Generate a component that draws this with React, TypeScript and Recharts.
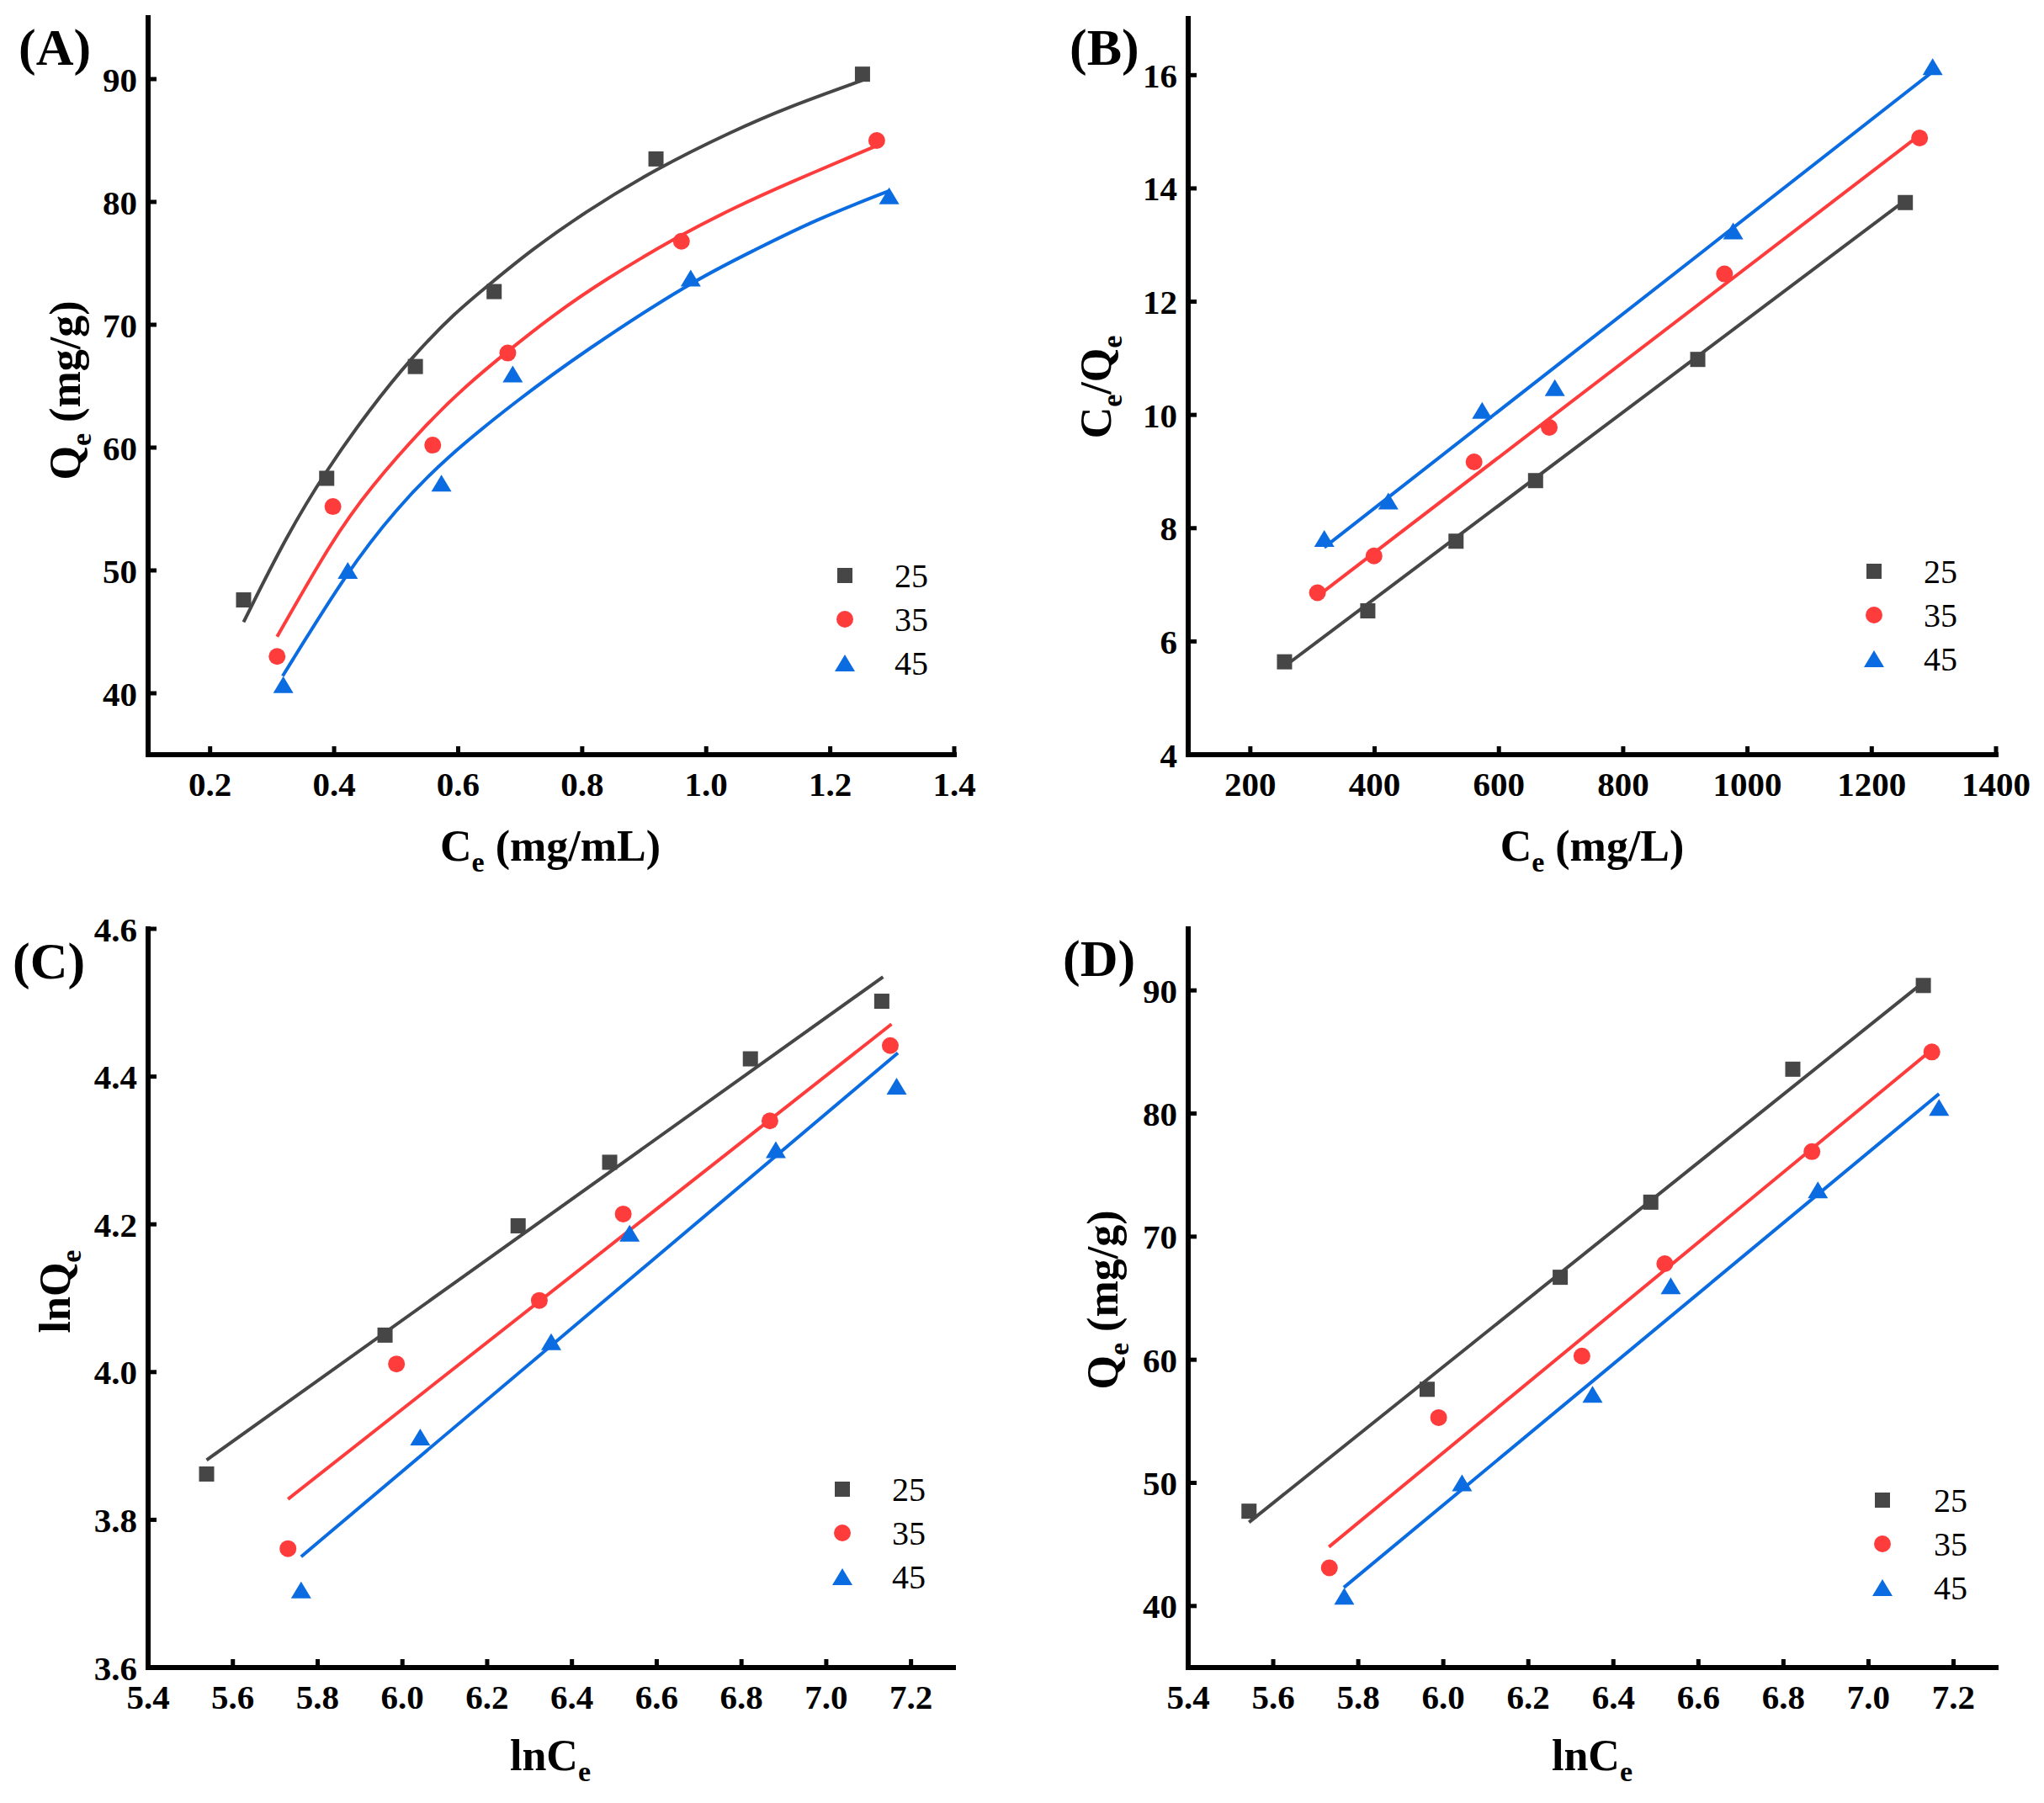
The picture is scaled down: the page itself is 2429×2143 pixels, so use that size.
import React from 'react';
import { ComposedChart, Line, Scatter, XAxis, YAxis, Legend } from 'recharts';

const FONT = '"Liberation Serif", "Times New Roman", Times, serif';
const GRAY = '#464646';
const RED = '#FF3C3C';
const BLUE = '#0A6CE0';

const TEMPS = ['25', '35', '45'];
const COLORS = [GRAY, RED, BLUE];
const SHAPES = ['square', 'circle', 'triangle'];

// (A) Qe vs Ce (mg/mL), measured points
const ceA25 = [0.254, 0.388, 0.531, 0.658, 0.919, 1.252];
const qeA25 = [47.6, 57.5, 66.6, 72.7, 83.5, 90.4];
const ceA35 = [0.308, 0.398, 0.559, 0.68, 0.96, 1.275];
const qeA35 = [43.0, 55.2, 60.2, 67.7, 76.8, 85.0];
const ceA45 = [0.318, 0.422, 0.573, 0.688, 0.975, 1.295];
const qeA45 = [40.7, 50.0, 57.1, 66.0, 73.8, 80.5];
// (A) fitted curves
const fitA25x = [0.254, 0.323, 0.388, 0.457, 0.526, 0.595, 0.658, 0.716, 0.802, 0.919, 1.044, 1.131, 1.252];
const fitA25y = [45.8, 52.8, 58.2, 63.1, 67.4, 71.0, 73.6, 76.0, 79.1, 82.7, 85.8, 87.7, 89.9];
const fitA35x = [0.308, 0.396, 0.457, 0.552, 0.612, 0.681, 0.751, 0.837, 0.958, 1.044, 1.131, 1.276];
const fitA35y = [44.6, 52.4, 56.7, 62.1, 65.0, 67.9, 70.7, 73.7, 77.3, 79.5, 81.5, 84.6];
const fitA45x = [0.317, 0.422, 0.5, 0.578, 0.699, 0.802, 0.975, 1.079, 1.174, 1.295];
const fitA45y = [41.4, 50.0, 55.0, 59.1, 64.0, 67.8, 73.5, 76.1, 78.5, 80.9];

// (B) Ce/Qe vs Ce (mg/L)
const ceB25 = [255, 389, 531, 659, 920, 1254];
const rB25 = [5.64, 6.54, 7.77, 8.84, 10.98, 13.75];
const ceB35 = [308, 399, 560, 681, 963, 1277];
const rB35 = [6.86, 7.51, 9.17, 9.78, 12.49, 14.89];
const ceB45 = [319, 422, 573, 690, 977, 1298];
const rB45 = [7.82, 8.48, 10.08, 10.48, 13.25, 16.15];
const fitB25x = [255, 1254];
const fitB25y = [5.56, 13.79];
const fitB35x = [308, 1277];
const fitB35y = [6.8, 14.94];
const fitB45x = [319, 1298];
const fitB45y = [7.66, 16.06];

// (C) lnQe vs lnCe
const lnCeC25 = [5.538, 5.959, 6.273, 6.489, 6.821, 7.131];
const lnQeC25 = [3.862, 4.05, 4.198, 4.284, 4.424, 4.502];
const lnCeC35 = [5.73, 5.986, 6.323, 6.521, 6.867, 7.151];
const lnQeC35 = [3.761, 4.011, 4.097, 4.214, 4.34, 4.442];
const lnCeC45 = [5.761, 6.042, 6.351, 6.536, 6.881, 7.166];
const lnQeC45 = [3.705, 3.912, 4.041, 4.188, 4.301, 4.387];
const fitC25x = [5.538, 7.134];
const fitC25y = [3.881, 4.535];
const fitC35x = [5.73, 7.154];
const fitC35y = [3.828, 4.471];
const fitC45x = [5.761, 7.169];
const fitC45y = [3.75, 4.432];

// (D) Qe vs lnCe
const lnCeD25 = [5.543, 5.962, 6.275, 6.488, 6.822, 7.129];
const qeD25 = [47.7, 57.6, 66.7, 72.8, 83.6, 90.4];
const lnCeD35 = [5.732, 5.989, 6.326, 6.521, 6.867, 7.149];
const qeD35 = [43.1, 55.3, 60.3, 67.8, 76.9, 85.0];
const lnCeD45 = [5.767, 6.044, 6.351, 6.535, 6.881, 7.166];
const qeD45 = [40.8, 50.0, 57.2, 66.0, 73.8, 80.5];
const fitD25x = [5.543, 7.127];
const fitD25y = [46.8, 90.6];
const fitD35x = [5.731, 7.15];
const fitD35y = [44.8, 85.2];
const fitD45x = [5.766, 7.166];
const fitD45y = [41.5, 81.6];

// ticks
const ticksA_x = [0.2, 0.4, 0.6, 0.8, 1.0, 1.2, 1.4];
const ticksQe_y = [40, 50, 60, 70, 80, 90];
const ticksB_x = [200, 400, 600, 800, 1000, 1200, 1400];
const ticksB_y = [4, 6, 8, 10, 12, 14, 16];
const ticksLn_x = [5.4, 5.6, 5.8, 6.0, 6.2, 6.4, 6.6, 6.8, 7.0, 7.2];
const ticksC_y = [3.6, 3.8, 4.0, 4.2, 4.4, 4.6];

type Pt = { x: number; y: number };
const zip = (xs: number[], ys: number[]): Pt[] => xs.map((x, i) => ({ x, y: ys[i] }));

const drawMarker = (kind: string, cx: number, cy: number, color: string) => {
  if (kind === 'square') return <rect x={cx - 9} y={cy - 9} width={18} height={18} fill={color} />;
  if (kind === 'circle') return <circle cx={cx} cy={cy} r={10} fill={color} />;
  return <path d={`M${cx},${cy - 10}L${cx + 12},${cy + 10}L${cx - 12},${cy + 10}Z`} fill={color} />;
};

const fmt1 = (v: number) => v.toFixed(1);
const fmt0 = (v: number) => String(Math.round(v));

const panels = [
  {
    left: 0, top: 0, width: 1200, height: 1070,
    plot: { l: 176, t: 21, r: 1134, b: 897 },
    xDomain: [0.1, 1.4], xTicks: ticksA_x, xFmt: fmt1,
    yDomain: [35, 95], yTicks: ticksQe_y, yFmt: fmt0,
    curved: true,
    points: [zip(ceA25, qeA25), zip(ceA35, qeA35), zip(ceA45, qeA45)],
    fits: [zip(fitA25x, fitA25y), zip(fitA35x, fitA35y), zip(fitA45x, fitA45y)],
    legend: { cx: 1004, y0: 684, textX: 1063 },
  },
  {
    left: 1200, top: 0, width: 1229, height: 1070,
    plot: { l: 212, t: 22, r: 1172, b: 897 },
    xDomain: [100, 1400], xTicks: ticksB_x, xFmt: fmt0,
    yDomain: [4, 17], yTicks: ticksB_y, yFmt: fmt0,
    curved: false,
    points: [zip(ceB25, rB25), zip(ceB35, rB35), zip(ceB45, rB45)],
    fits: [zip(fitB25x, fitB25y), zip(fitB35x, fitB35y), zip(fitB45x, fitB45y)],
    legend: { cx: 1027, y0: 679, textX: 1086 },
  },
  {
    left: 0, top: 1070, width: 1200, height: 1073,
    plot: { l: 176, t: 34, r: 1133, b: 912 },
    xDomain: [5.4, 7.3], xTicks: ticksLn_x, xFmt: fmt1,
    yDomain: [3.6, 4.6], yTicks: ticksC_y, yFmt: fmt1,
    curved: false,
    points: [zip(lnCeC25, lnQeC25), zip(lnCeC35, lnQeC35), zip(lnCeC45, lnQeC45)],
    fits: [zip(fitC25x, fitC25y), zip(fitC35x, fitC35y), zip(fitC45x, fitC45y)],
    legend: { cx: 1001, y0: 700, textX: 1060 },
  },
  {
    left: 1200, top: 1070, width: 1229, height: 1073,
    plot: { l: 212, t: 34, r: 1172, b: 912 },
    xDomain: [5.4, 7.3], xTicks: ticksLn_x, xFmt: fmt1,
    yDomain: [35, 95], yTicks: ticksQe_y, yFmt: fmt0,
    curved: false,
    points: [zip(lnCeD25, qeD25), zip(lnCeD35, qeD35), zip(lnCeD45, qeD45)],
    fits: [zip(fitD25x, fitD25y), zip(fitD35x, fitD35y), zip(fitD45x, fitD45y)],
    legend: { cx: 1037, y0: 713, textX: 1098 },
  },
];

const axisLine = { stroke: '#000', strokeWidth: 6, strokeLinecap: 'square' as const };
const tickLine = { stroke: '#000', strokeWidth: 5 };
const tickTextStyle = { fontFamily: FONT, fontWeight: 700, fontSize: 41 };

// tick labels drawn as plain svg text so the serif font sticks
const makeTick = (fmt: (v: number) => string, side: 'bottom' | 'left') => (props: any) => {
  const { x, y, payload } = props;
  return (
    <text
      x={x}
      y={y}
      dy={side === 'bottom' ? '0.71em' : '0.355em'}
      textAnchor={side === 'bottom' ? 'middle' : 'end'}
      fill="#000"
      fontFamily={FONT}
      fontWeight={700}
      fontSize={41}
      style={tickTextStyle}
    >
      {fmt(payload.value)}
    </text>
  );
};

const LegendBox = ({ lg }: { lg: { cx: number; y0: number; textX: number } }) => (
  <svg width={170} height={180} style={{ display: 'block', overflow: 'visible', fontFamily: FONT }}>
    {TEMPS.map((t, i) => {
      const y = 30 + i * 52;
      return (
        <g key={t}>
          {drawMarker(SHAPES[i], 20, y, COLORS[i])}
          <text
            x={lg.textX - lg.cx + 20}
            y={y + 14}
            fill="#000"
            style={{ fontFamily: FONT, fontSize: 40, fontWeight: 400 }}
          >
            {t}
          </text>
        </g>
      );
    })}
  </svg>
);

const Panel = ({ p }: { p: (typeof panels)[number] }) => (
  <div style={{ position: 'absolute', left: p.left, top: p.top, fontFamily: FONT }}>
    <ComposedChart
      width={p.width}
      height={p.height}
      margin={{ top: p.plot.t, right: p.width - p.plot.r, left: 0, bottom: 0 }}
      style={{ fontFamily: FONT }}
    >
      <XAxis
        xAxisId="b"
        dataKey="x"
        type="number"
        domain={p.xDomain}
        ticks={p.xTicks}
        interval={0}
        allowDataOverflow
        height={p.height - p.plot.b}
        axisLine={axisLine}
        tickLine={tickLine}
        tickSize={-10}
        tickMargin={30}
        tick={makeTick(p.xFmt, 'bottom')}
      />
      <XAxis
        xAxisId="t"
        orientation="top"
        dataKey="x"
        type="number"
        domain={p.xDomain}
        allowDataOverflow
        height={0}
        axisLine={axisLine}
        tick={false}
        tickLine={false}
      />
      <YAxis
        yAxisId="l"
        dataKey="y"
        type="number"
        domain={p.yDomain}
        ticks={p.yTicks}
        interval={0}
        allowDataOverflow
        width={p.plot.l}
        axisLine={axisLine}
        tickLine={tickLine}
        tickSize={-10}
        tickMargin={23}
        tick={makeTick(p.yFmt, 'left')}
      />
      <YAxis
        yAxisId="r"
        orientation="right"
        dataKey="y"
        type="number"
        domain={p.yDomain}
        allowDataOverflow
        width={0}
        axisLine={axisLine}
        tick={false}
        tickLine={false}
      />
      {p.fits.map((f, i) => (
        <Line
          key={'fit' + i}
          xAxisId="b"
          yAxisId="l"
          data={f}
          dataKey="y"
          type={p.curved ? 'basis' : 'linear'}
          stroke={COLORS[i]}
          strokeWidth={4}
          dot={false}
          activeDot={false}
          legendType="none"
          isAnimationActive={false}
        />
      ))}
      {p.points.map((pts, i) => (
        <Scatter
          key={'pts' + i}
          name={TEMPS[i]}
          xAxisId="b"
          yAxisId="l"
          data={pts}
          dataKey="y"
          fill={COLORS[i]}
          shape={(sp: any) => (sp.cx == null ? <g /> : drawMarker(SHAPES[i], sp.cx, sp.cy, COLORS[i]))}
          isAnimationActive={false}
        />
      ))}
      <Legend
        layout="vertical"
        align="center"
        verticalAlign="middle"
        content={() => <LegendBox lg={p.legend} />}
        wrapperStyle={{ left: p.legend.cx - 20, top: p.legend.y0 - 30, width: 170, height: 180 }}
      />
    </ComposedChart>
  </div>
);

const SUB = 34;
const SD = 13;
const titleStyle = { fontFamily: FONT, fontWeight: 700 };

export default function App() {
  return (
    <div
      style={{
        position: 'relative',
        width: 2429,
        height: 2143,
        background: '#fff',
        overflow: 'hidden',
        fontFamily: FONT,
      }}
    >
      <style>{'body{margin:0;background:#fff}'}</style>
      {panels.map((p, i) => (
        <Panel key={i} p={p} />
      ))}
      <svg
        width={2429}
        height={2143}
        style={{ position: 'absolute', left: 0, top: 0, pointerEvents: 'none' }}
      >
        <g style={titleStyle} fill="#000">
          <text x={22} y={77} fontSize={62}>(A)</text>
          <text x={1271} y={77} fontSize={62}>(B)</text>
          <text x={15} y={1163} fontSize={62}>(C)</text>
          <text x={1263} y={1160} fontSize={62}>(D)</text>

          <text x={654} y={1023} fontSize={52} textAnchor="middle">
            C<tspan fontSize={SUB} dy={SD}>e</tspan>
            <tspan dy={-SD}> (mg/mL)</tspan>
          </text>
          <text x={95} y={464} fontSize={52} textAnchor="middle" transform="rotate(-90 95 464)">
            Q<tspan fontSize={SUB} dy={SD}>e</tspan>
            <tspan dy={-SD}> (mg/g)</tspan>
          </text>

          <text x={1892} y={1023} fontSize={52} textAnchor="middle">
            C<tspan fontSize={SUB} dy={SD}>e</tspan>
            <tspan dy={-SD}> (mg/L)</tspan>
          </text>
          <text x={1320} y={460} fontSize={52} textAnchor="middle" transform="rotate(-90 1320 460)">
            C<tspan fontSize={SUB} dy={SD}>e</tspan>
            <tspan dy={-SD}>/Q</tspan>
            <tspan fontSize={SUB} dy={SD}>e</tspan>
          </text>

          <text x={654} y={2104} fontSize={52} textAnchor="middle">
            lnC<tspan fontSize={SUB} dy={SD}>e</tspan>
          </text>
          <text x={83} y={1535} fontSize={52} textAnchor="middle" transform="rotate(-90 83 1535)">
            lnQ<tspan fontSize={SUB} dy={SD}>e</tspan>
          </text>

          <text x={1892} y={2104} fontSize={52} textAnchor="middle">
            lnC<tspan fontSize={SUB} dy={SD}>e</tspan>
          </text>
          <text x={1328} y={1545} fontSize={52} textAnchor="middle" transform="rotate(-90 1328 1545)">
            Q<tspan fontSize={SUB} dy={SD}>e</tspan>
            <tspan dy={-SD}> (mg/g)</tspan>
          </text>
        </g>
      </svg>
    </div>
  );
}
